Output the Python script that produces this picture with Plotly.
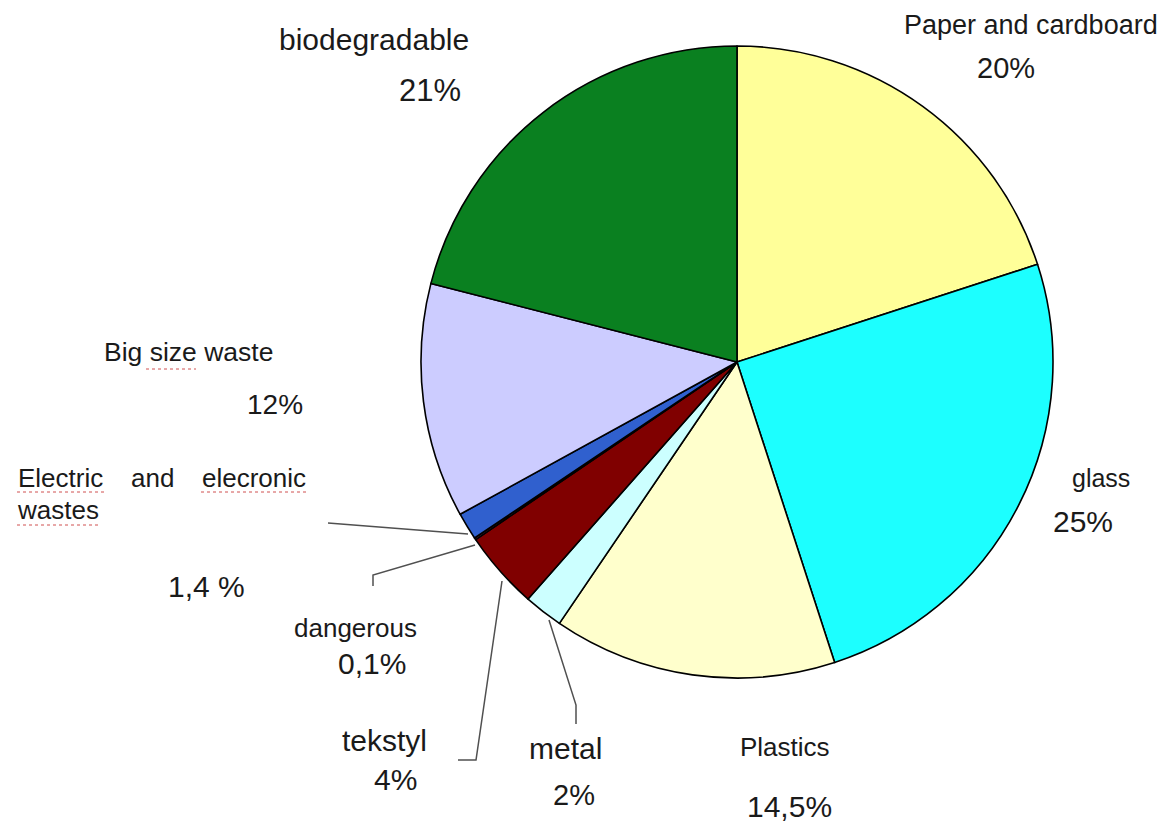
import plotly.graph_objects as go

W, H = 1162, 825

# Waste composition, clockwise from 12 o'clock
categories = ["Paper and cardboard", "glass", "Plastics", "metal", "tekstyl",
              "dangerous", "Electric and elecronic wastes", "Big size waste",
              "biodegradable"]
shares = [20, 25, 14.5, 2, 4, 0.1, 1.4, 12, 21]
share_labels = ["20%", "25%", "14,5%", "2%", "4%", "0,1%", "1,4 %", "12%", "21%"]
colors = ["#FFFF99", "#1CFFFF", "#FFFFCC", "#CCFFFF", "#800000",
          "#993366", "#3060CE", "#CCCCFF", "#0A8020"]


def px(x, y):
    """Pixel position (from top-left) to paper coordinates."""
    return x / W, 1 - y / H


cx, cy, r = 737, 362, 316
x0, y1 = px(cx - r, cy - r)
x1, y0 = px(cx + r, cy + r)

fig = go.Figure(go.Pie(
    labels=categories,
    values=shares,
    sort=False,
    direction="clockwise",
    rotation=0,
    marker=dict(colors=colors, line=dict(color="#000000", width=1.6)),
    textinfo="none",
    hoverinfo="label+percent",
    showlegend=False,
    domain=dict(x=[x0, x1], y=[y0, y1]),
))

FONT = "Liberation Sans, Arial, sans-serif"
TXT = "#1a1a1a"

# (text, centre x px, centre y px, size)
label_pos = [
    (categories[0], 1031, 25, 27), (share_labels[0], 1006, 68, 29),
    (categories[1], 1101, 478, 25), (share_labels[1], 1083, 521, 30),
    (categories[2], 785, 747, 26), (share_labels[2], 789, 806, 30),
    (categories[3], 565, 748, 30), (share_labels[3], 574, 795, 29),
    (categories[4], 384, 740, 30), (share_labels[4], 395, 779, 30),
    (categories[5], 355, 628, 26), (share_labels[5], 372, 663, 30),
    (share_labels[6], 206, 586, 30),
    (categories[7], 188, 352, 26.5), (share_labels[7], 275, 404, 28),
    (categories[8], 374, 40, 30), (share_labels[8], 430, 90, 31),
]
# justified two-line label for the electric/electronic category
elec_words = [("Electric", 60, 478), ("and", 152, 478), ("elecronic", 254, 478),
              ("wastes", 58, 510)]

annotations = []
for text, x, y, size in label_pos:
    ax, ay = px(x, y)
    annotations.append(dict(text=text, x=ax, y=ay, xref="paper", yref="paper",
                            xanchor="center", yanchor="middle", showarrow=False,
                            font=dict(family=FONT, size=size, color=TXT)))
for text, x, y in elec_words:
    ax, ay = px(x, y)
    annotations.append(dict(text=text, x=ax, y=ay, xref="paper", yref="paper",
                            xanchor="center", yanchor="middle", showarrow=False,
                            font=dict(family=FONT, size=26, color=TXT)))

# leader lines for the small slices
leaders = [
    [(328, 523), (468, 534)],
    [(373, 586), (373, 575), (475, 545)],
    [(458, 760), (476, 760), (502, 581)],
    [(576, 724), (576, 705), (549, 620)],
]
shapes = []
for pts in leaders:
    path = ""
    for i, (x, y) in enumerate(pts):
        ax, ay = px(x, y)
        path += ("M" if i == 0 else "L") + f"{ax},{ay} "
    shapes.append(dict(type="path", path=path.strip(), xref="paper", yref="paper",
                       line=dict(color="#505050", width=1.5)))

# spell-check style underlines
squiggles = [(146, 196, 369), (17, 104, 492), (201, 307, 492), (17, 99, 525)]
for xa, xb, y in squiggles:
    ax0, ay = px(xa, y)
    ax1, _ = px(xb, y)
    shapes.append(dict(type="line", x0=ax0, x1=ax1, y0=ay, y1=ay,
                       xref="paper", yref="paper",
                       line=dict(color="#d05050", width=1, dash="dot")))

fig.update_layout(
    width=W, height=H,
    margin=dict(l=0, r=0, t=0, b=0),
    paper_bgcolor="#ffffff",
    plot_bgcolor="#ffffff",
    annotations=annotations,
    shapes=shapes,
)

fig.write_html("out.html")
